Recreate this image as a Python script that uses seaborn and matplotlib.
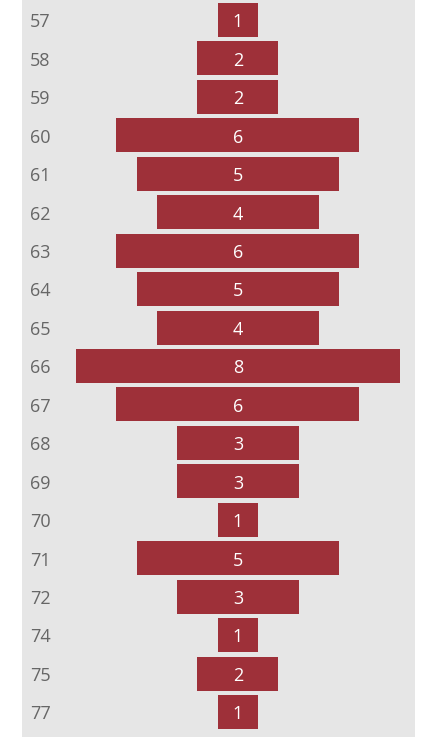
import matplotlib
matplotlib.use("Agg")
import matplotlib.pyplot as plt
import seaborn as sns
import pandas as pd

ages = ["57", "58", "59", "60", "61", "62", "63", "64", "65", "66",
        "67", "68", "69", "70", "71", "72", "74", "75", "77"]
counts = [1, 2, 2, 6, 5, 4, 6, 5, 4, 8, 6, 3, 3, 1, 5, 3, 1, 2, 1]

df = pd.DataFrame({"age": ages, "count": counts})

sns.set_theme(style="white")
plt.rcParams["font.family"] = ["Open Sans", "DejaVu Sans"]

fig = plt.figure(figsize=(4.21, 7.37), dpi=100)
ax = fig.add_axes([22 / 421, 0, 393 / 421, 1])
ax.set_facecolor("#e6e6e6")

sns.barplot(data=df, x="count", y="age", orient="h", color="#9e3039",
            saturation=1, width=0.885, ax=ax)

# center each bar around zero so the chart reads as a funnel
for patch, v in zip(ax.patches, counts):
    patch.set_x(-v / 2)
    patch.set_linewidth(0)
    ax.text(0, patch.get_y() + patch.get_height() / 2 + 0.06, str(v),
            ha="center", va="center", color="white", fontsize=13)

for i, a in enumerate(ages):
    ax.text(0.02, i + 0.06, a, transform=ax.get_yaxis_transform(),
            ha="left", va="center", color="#666666", fontsize=13)

ax.set_xlim(-5.33, 4.37)
ax.set_ylim(18.65, -0.52)
ax.set_xticks([])
ax.set_yticks([])
ax.set_xlabel("")
ax.set_ylabel("")
for s in ax.spines.values():
    s.set_visible(False)

fig.savefig("out.png", dpi=100, facecolor="white")
